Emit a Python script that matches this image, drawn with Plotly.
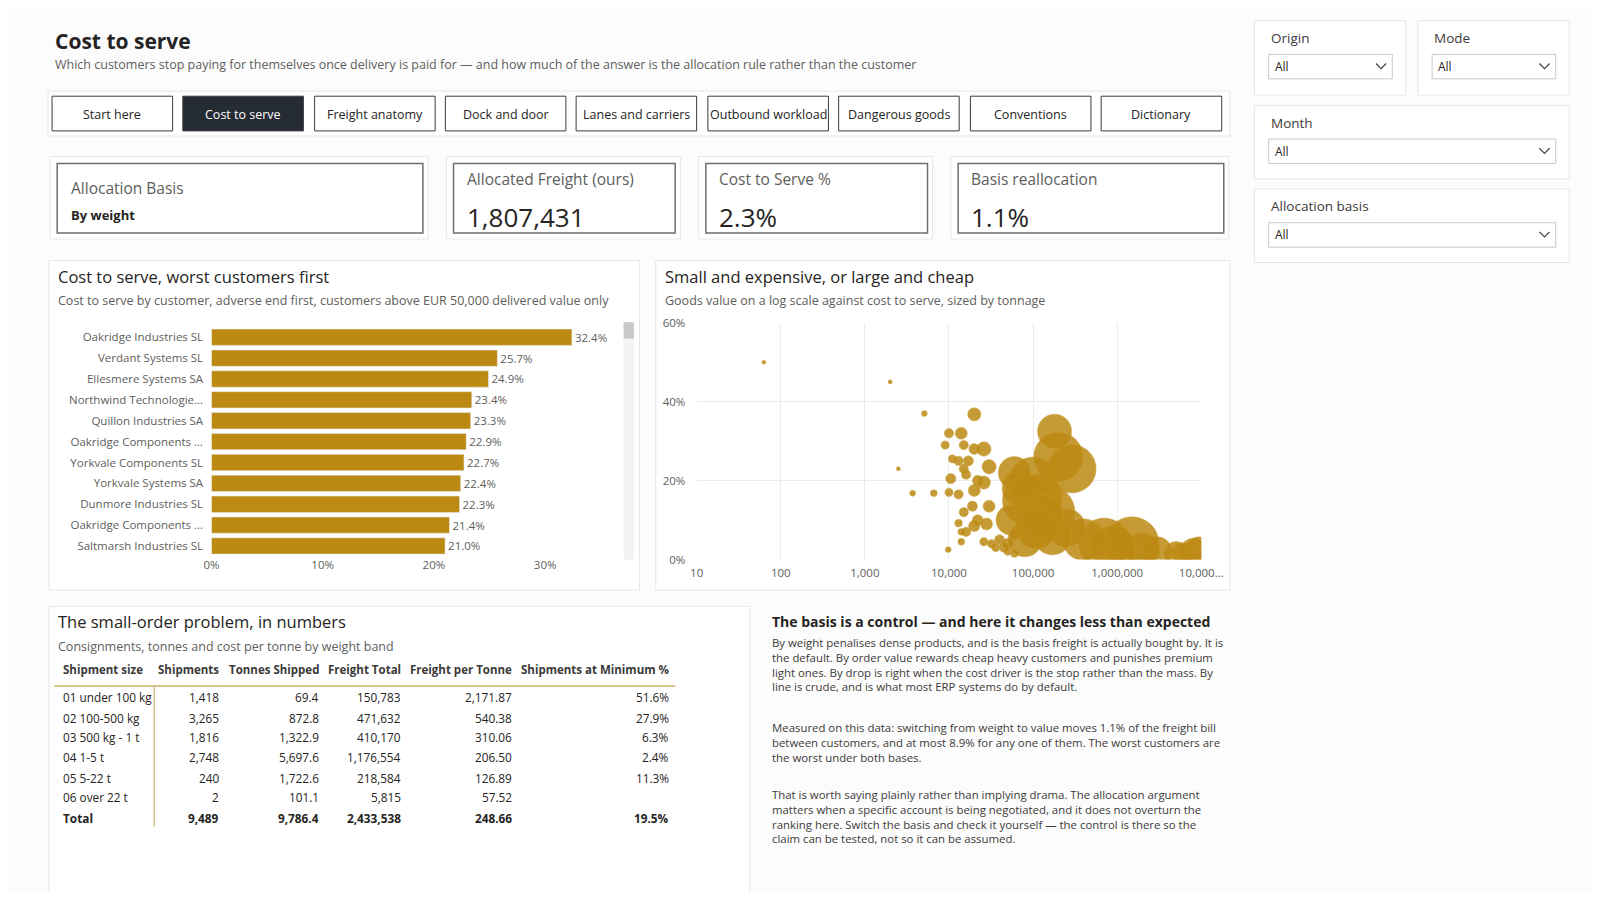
import plotly.graph_objects as go

# ---- data ----
customers = ["Oakridge Industries SL", "Verdant Systems SL", "Ellesmere Systems SA",
             "Northwind Technologie...", "Quillon Industries SA", "Oakridge Components ...",
             "Yorkvale Components SL", "Yorkvale Systems SA", "Dunmore Industries SL",
             "Oakridge Components ...", "Saltmarsh Industries SL"]
cts = [0.324, 0.257, 0.249, 0.234, 0.233, 0.229, 0.227, 0.224, 0.223, 0.214, 0.210]

goods_value = [63, 2000, 5100, 20000, 2500, 3700, 6600, 9800, 10000, 13000,
               9000, 10000, 14000, 15000, 20000, 26000, 30000, 11000, 13000, 17000,
               15000, 16000, 10500, 20000, 22000, 26000, 15000, 19000, 22000, 20000,
               16000, 13000, 14000, 14000, 30000, 28000, 26000, 32000, 36000, 40000,
               45000, 50000, 60000, 60000, 50000, 180000, 290000, 100000, 70000, 60000,
               150000, 120000, 85000, 55000, 400000, 700000, 1500000, 2000000, 3000000,
               6000000, 8000000, 250000, 200000, 130000, 900000, 5000000, 9500000, 170000,
               80000, 110000]
goods_cts = [0.50, 0.45, 0.37, 0.368, 0.23, 0.168, 0.168, 0.025, 0.17, 0.165,
             0.29, 0.32, 0.32, 0.29, 0.28, 0.28, 0.235, 0.255, 0.25, 0.25,
             0.23, 0.215, 0.205, 0.175, 0.20, 0.195, 0.12, 0.135, 0.10, 0.085,
             0.07, 0.092, 0.07, 0.045, 0.135, 0.09, 0.045, 0.04, 0.03, 0.05,
             0.03, 0.02, 0.06, 0.015, 0.04, 0.325, 0.23, 0.20, 0.18, 0.22,
             0.12, 0.16, 0.15, 0.10, 0.05, 0.04, 0.04, 0.025, 0.02,
             0.015, 0.02, 0.08, 0.26, 0.11, 0.03, 0.015, 0.02, 0.06,
             0.05, 0.08]
tonnes = [1, 3, 6, 30, 3, 6, 8, 6, 12, 15,
          12, 15, 25, 15, 20, 35, 35, 12, 15, 18,
          15, 15, 18, 25, 20, 30, 15, 18, 20, 22,
          15, 10, 8, 8, 25, 25, 12, 12, 12, 18,
          15, 10, 15, 10, 20, 200, 400, 380, 220, 180,
          500, 350, 420, 160, 300, 450, 500, 200, 150,
          80, 120, 250, 420, 300, 350, 100, 150, 250,
          200, 300]

bands = ["01 under 100 kg", "02 100-500 kg", "03 500 kg - 1 t", "04 1-5 t", "05 5-22 t", "06 over 22 t", "Total"]
shipments = ["1,418", "3,265", "1,816", "2,748", "240", "2", "9,489"]
tonnes_shipped = ["69.4", "872.8", "1,322.9", "5,697.6", "1,722.6", "101.1", "9,786.4"]
freight_total = ["150,783", "471,632", "410,170", "1,176,554", "218,584", "5,815", "2,433,538"]
freight_per_t = ["2,171.87", "540.38", "310.06", "206.50", "126.89", "57.52", "248.66"]
at_min = ["51.6%", "27.9%", "6.3%", "2.4%", "11.3%", "", "19.5%"]

tabs = ["Start here", "Cost to serve", "Freight anatomy", "Dock and door", "Lanes and carriers",
        "Outbound workload", "Dangerous goods", "Conventions", "Dictionary"]

FW, FH = 1584, 884
S = 1600 / 1568
FONT = "Segoe UI, Open Sans, sans-serif"
GOLD = "#BC8A13"
GREY = "#605E5C"
DARK = "#252423"

# reference pixel -> paper fraction (calibrated against the rendered page)
def X(x): return (((x - 10) / 0.98) * S - 8) / FW
def Y(y): return 1 - (((y - 7.7) / 0.983) * S - 8) / FH

shapes, ann = [], []

def rect(x0, y0, x1, y1, line="#E1E1E1", fill="white", w=1):
    shapes.append(dict(type="rect", xref="paper", yref="paper", x0=X(x0), x1=X(x1),
                       y0=Y(y1), y1=Y(y0), line=dict(color=line, width=w), fillcolor=fill, layer="below"))

def line(x0, y0, x1, y1, color, w=1):
    shapes.append(dict(type="line", xref="paper", yref="paper", x0=X(x0), x1=X(x1),
                       y0=Y(y0), y1=Y(y1), line=dict(color=color, width=w)))

def text(x, y, s, size=13, color=DARK, anchor="left"):
    ann.append(dict(xref="paper", yref="paper", x=X(x), y=Y(y), text=s, showarrow=False,
                    xanchor=anchor, yanchor="middle", align=anchor,
                    font=dict(family=FONT, size=size, color=color)))

def chevron(x, y):
    shapes.append(dict(type="path", xref="paper", yref="paper",
                       path=f"M {X(x-5)},{Y(y-3)} L {X(x)},{Y(y+2)} L {X(x+5)},{Y(y-3)}",
                       line=dict(color="#444", width=1.2)))

# page background
rect(11, 0, 1620, 920, line="#FCFCFC", fill="#FCFCFC")

# title
text(54, 40, "<b>Cost to serve</b>", 21, DARK)
text(54, 63, "Which customers stop paying for themselves once delivery is paid for — and how much of the answer is the allocation rule rather than the customer", 12.5, GREY)

# tabs
rect(49, 89, 1206, 133, line="#E6E6E6", fill="white")
tab_x = [53, 181, 310, 438, 566, 695, 823, 952, 1080]
for t, x0 in zip(tabs, tab_x):
    active = t == "Cost to serve"
    rect(x0, 94, x0 + 118, 128, line="#3B3B3B", fill="#252B33" if active else "white")
    text(x0 + 59, 112, t, 12.5, "white" if active else DARK, anchor="center")

# KPI cards
cards = [(51, 421, "Allocation Basis", "By weight"), (439, 668, "Allocated Freight (ours)", "1,807,431"),
         (686, 915, "Cost to Serve %", "2.3%"), (933, 1205, "Basis reallocation", "1.1%")]
for i, (a, b, lab, val) in enumerate(cards):
    rect(a, 153, b, 234, line="#E6E6E6", fill="white")
    rect(a + 7, 160, b - 5, 228, line="#6E6E6E", fill="white", w=1.5)
    if i == 0:
        text(a + 19, 184, lab, 15.5, GREY)
        text(a + 19, 210, "<b>" + val + "</b>", 13, DARK)
    else:
        text(a + 18, 175, lab, 15.5, GREY)
        text(a + 18, 212, val, 26, DARK)

# slicers
slicers = [(1230, 1378, 20, 93, "Origin"), (1390, 1538, 20, 93, "Mode"),
           (1230, 1538, 103, 175, "Month"), (1230, 1538, 185, 257, "Allocation basis")]
for a, b, t0, t1, lab in slicers:
    rect(a, t0, b, t1, line="#E6E6E6", fill="white")
    text(a + 14, t0 + 17, lab, 13.5, "#3B3A39")
    rect(a + 14, t0 + 33, b - 13, t0 + 57, line="#C8C8C8", fill="white")
    text(a + 18, t0 + 45, "All", 12, DARK)
    chevron(b - 24, t0 + 45)

# panels
rect(50, 255, 628, 578, line="#E6E6E6", fill="white")
text(57, 271, "Cost to serve, worst customers first", 16.5, DARK)
text(57, 294, "Cost to serve by customer, adverse end first, customers above EUR 50,000 delivered value only", 12.5, GREY)
rect(613, 316, 622, 548, line="#F3F3F3", fill="#F3F3F3")
rect(613, 316, 622, 331, line="#C8C8C8", fill="#C8C8C8")

rect(644, 255, 1206, 578, line="#E6E6E6", fill="white")
text(651, 271, "Small and expensive, or large and cheap", 16.5, DARK)
text(651, 294, "Goods value on a log scale against cost to serve, sized by tonnage", 12.5, GREY)

rect(50, 594, 736, 920, line="#E6E6E6", fill="white")
text(57, 609, "The small-order problem, in numbers", 16.5, DARK)
text(57, 633, "Consignments, tonnes and cost per tonne by weight band", 12.5, GREY)

# table
headers = ["Shipment size", "Shipments", "Tonnes Shipped", "Freight Total", "Freight per Tonne", "Shipments at Minimum %"]
cols = [bands, shipments, tonnes_shipped, freight_total, freight_per_t, at_min]
col_x = [62, 218, 316, 397, 505, 659]
row_y = [683, 703, 722, 742, 762, 781, 801]
for j, (h, cx) in enumerate(zip(headers, col_x)):
    text(cx, 656, "<b>" + h + "</b>", 11.5, "#3B3A39", anchor="left" if j == 0 else "right")
    for i, ry in enumerate(row_y):
        v = cols[j][i]
        if i == len(row_y) - 1:
            v = "<b>" + v + "</b>"
        text(cx, ry, v, 11.8, DARK, anchor="left" if j == 0 else "right")
line(55, 672, 663, 672, "#D9C48E", 2)
line(153, 672, 153, 810, "#D9C48E", 1.5)

# narrative text
text(756, 609, "<b>The basis is a control — and here it changes less than expected</b>", 14, DARK)
paras = [
    (628, "By weight penalises dense products, and is the basis freight is actually bought by. It is<br>"
          "the default. By order value rewards cheap heavy customers and punishes premium<br>"
          "light ones. By drop is right when the cost driver is the stop rather than the mass. By<br>"
          "line is crude, and is what most ERP systems do by default."),
    (711, "Measured on this data: switching from weight to value moves 1.1% of the freight bill<br>"
          "between customers, and at most 8.9% for any one of them. The worst customers are<br>"
          "the worst under both bases."),
    (777, "That is worth saying plainly rather than implying drama. The allocation argument<br>"
          "matters when a specific account is being negotiated, and it does not overturn the<br>"
          "ranking here. Switch the basis and check it yourself — the control is there so the<br>"
          "claim can be tested, not so it can be assumed."),
]
for y0, p in paras:
    ann.append(dict(xref="paper", yref="paper", x=X(756), y=Y(y0 - 8), text=p, showarrow=False,
                    xanchor="left", yanchor="top", align="left",
                    font=dict(family=FONT, size=11.4, color="#3B3A39")))

fig = go.Figure()

fig.add_trace(go.Bar(
    x=cts, y=list(range(len(customers))), orientation="h", marker=dict(color=GOLD),
    text=[f"{v*100:.1f}%" for v in cts], textposition="outside", cliponaxis=False,
    textfont=dict(family=FONT, size=11.5, color=GREY), xaxis="x", yaxis="y", hoverinfo="skip"))

max_t = max(tonnes)
fig.add_trace(go.Scatter(
    x=goods_value, y=goods_cts, mode="markers", xaxis="x2", yaxis="y2",
    marker=dict(color=GOLD, opacity=0.85, size=tonnes, sizemode="area",
                sizeref=2 * max_t / 54 ** 2, sizemin=2, line=dict(width=0.5, color="#C99A2E")),
    hoverinfo="skip"))

axfont = dict(family=FONT, size=11.5, color=GREY)
fig.update_layout(
    width=FW, height=FH, margin=dict(l=0, r=0, t=0, b=0),
    paper_bgcolor="#FCFCFC", plot_bgcolor="white", showlegend=False, bargap=0.22,
    font=dict(family=FONT),
    shapes=shapes, annotations=ann,
    xaxis=dict(domain=[X(209), X(600)], range=[0, 0.359], tickvals=[0, 0.1, 0.2, 0.3],
               ticktext=["0%", "10%", "20%", "30%"], showgrid=False, zeroline=False,
               tickfont=axfont, anchor="y"),
    yaxis=dict(domain=[Y(545), Y(320)], tickvals=list(range(len(customers))), ticktext=customers,
               autorange="reversed", showgrid=False, tickfont=axfont, ticks="outside",
               ticklen=5, tickcolor="rgba(0,0,0,0)", anchor="x"),
    xaxis2=dict(domain=[X(684), X(1178)], type="log", range=[1, 7],
                tickvals=[10, 100, 1000, 1e4, 1e5, 1e6, 1e7],
                ticktext=["10", "100", "1,000", "10,000", "100,000", "1,000,000", "10,000..."],
                showgrid=True, gridcolor="#EBEBEB", zeroline=False, tickfont=axfont, anchor="y2",
                ticks="outside", ticklen=3, tickcolor="rgba(0,0,0,0)"),
    yaxis2=dict(domain=[Y(548), Y(316)], range=[0, 0.6], tickvals=[0, 0.2, 0.4, 0.6],
                ticktext=["0%", "20%", "40%", "60%"], showgrid=True, gridcolor="#EBEBEB",
                zeroline=False, tickfont=axfont, anchor="x2",
                ticks="outside", ticklen=8, tickcolor="rgba(0,0,0,0)"),
)

fig.write_html("out.html")
